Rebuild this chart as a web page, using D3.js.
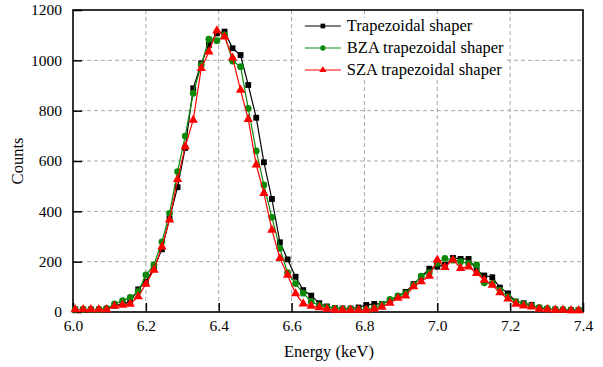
<!DOCTYPE html>
<html>
<head>
<meta charset="utf-8">
<script src="https://cdn.jsdelivr.net/npm/d3@7"></script>
<style>
  body { margin: 0; background: #fff; }
</style>
</head>
<body>
<div id="chart"></div>
<script>
// energy of each channel (keV)
const energy = [6.006, 6.028, 6.049, 6.071, 6.092, 6.114, 6.136, 6.157, 6.179, 6.200,
  6.222, 6.244, 6.265, 6.287, 6.308, 6.330, 6.352, 6.373, 6.395, 6.416,
  6.438, 6.460, 6.481, 6.503, 6.524, 6.546, 6.568, 6.589, 6.611, 6.632,
  6.654, 6.676, 6.697, 6.719, 6.740, 6.762, 6.784, 6.805, 6.827, 6.848,
  6.870, 6.892, 6.913, 6.935, 6.956, 6.978, 7.000, 7.021, 7.043, 7.064,
  7.086, 7.108, 7.129, 7.151, 7.172, 7.194, 7.216, 7.237, 7.259, 7.280,
  7.302, 7.324, 7.345, 7.367, 7.388];

const trapezoidal = [10, 10, 10, 10, 12, 25, 32, 41, 90, 120,
  174, 249, 372, 496, 652, 889, 988, 1061, 1107, 1114,
  1048, 1021, 902, 772, 595, 449, 277, 209, 140, 87,
  65, 35, 22, 16, 14, 14, 18, 28, 32, 32,
  45, 62, 80, 111, 140, 172, 180, 187, 215, 211,
  211, 167, 145, 138, 97, 74, 41, 35, 28, 16,
  12, 10, 8, 8, 8];

const bza = [10, 10, 10, 10, 14, 32, 45, 58, 81, 147,
  187, 279, 392, 558, 699, 869, 981, 1084, 1078, 1101,
  997, 975, 809, 640, 505, 376, 253, 156, 113, 75,
  41, 26, 18, 14, 12, 12, 10, 10, 16, 30,
  50, 64, 74, 107, 143, 156, 193, 213, 206, 200,
  193, 187, 116, 114, 87, 61, 41, 32, 24, 18,
  14, 10, 10, 8, 8];

const sza = [10, 10, 10, 10, 10, 24, 28, 32, 61, 111,
  167, 259, 366, 527, 657, 763, 968, 1034, 1118, 1094,
  1010, 882, 766, 585, 472, 326, 213, 147, 73, 33,
  24, 18, 12, 8, 8, 8, 8, 8, 12, 20,
  36, 55, 64, 101, 121, 143, 207, 178, 207, 174,
  180, 154, 127, 107, 77, 52, 32, 25, 21, 12,
  10, 8, 8, 6, 6];

const seriesNames = ['Trapezoidal shaper', 'BZA trapezoidal shaper', 'SZA trapezoidal shaper'];
const seriesColors = ['#000000', '#0a8a0a', '#ff0000'];
const seriesMarkers = ['square', 'circle', 'triangle'];
const xTicks = [6.0, 6.2, 6.4, 6.6, 6.8, 7.0, 7.2, 7.4];
const yTicks = [0, 200, 400, 600, 800, 1000, 1200];

const serif = '"Liberation Serif", "Times New Roman", Times, serif';

const margin = { top: 10, right: 20, bottom: 55, left: 73 };
const width = 603 - margin.left - margin.right;
const height = 367 - margin.top - margin.bottom;

const svg = d3.select('#chart').append('svg')
    .attr('width', 603)
    .attr('height', 367)
  .append('g')
    .attr('transform', 'translate(' + margin.left + ',' + margin.top + ')');

const x = d3.scaleLinear().domain([6.0, 7.4]).range([0, width]);
const y = d3.scaleLinear().domain([0, 1200]).range([height, 0]);

// grid
svg.append('g')
    .selectAll('line')
    .data(xTicks.slice(1, -1))
  .enter().append('line')
    .attr('x1', d => x(d)).attr('x2', d => x(d))
    .attr('y1', 0).attr('y2', height)
    .attr('stroke', '#a8a8a8')
    .attr('stroke-dasharray', '4,3');

svg.append('g')
    .selectAll('line')
    .data(yTicks.slice(1, -1))
  .enter().append('line')
    .attr('y1', d => y(d)).attr('y2', d => y(d))
    .attr('x1', 0).attr('x2', width)
    .attr('stroke', '#a8a8a8')
    .attr('stroke-dasharray', '4,3');

// axes with inward ticks
const xAxis = svg.append('g')
    .attr('transform', 'translate(0,' + height + ')')
    .call(d3.axisBottom(x).tickValues(xTicks).tickFormat(d3.format('.1f')).tickSizeInner(-9).tickSizeOuter(0).tickPadding(8));
const yAxis = svg.append('g')
    .call(d3.axisLeft(y).tickValues(yTicks).tickFormat(d3.format('d')).tickSizeInner(-9).tickSizeOuter(0).tickPadding(11));

[xAxis, yAxis].forEach(a => {
  a.attr('font-family', serif);
  a.select('.domain').remove();
  a.selectAll('line').attr('stroke', '#000').attr('stroke-width', 1.5);
  a.selectAll('text').attr('font-size', 15.5).attr('fill', '#000');
});

// frame
svg.append('rect')
    .attr('width', width).attr('height', height)
    .attr('fill', 'none').attr('stroke', '#000').attr('stroke-width', 1.6);

const symbolType = { square: d3.symbolSquare, circle: d3.symbolCircle, triangle: d3.symbolTriangle };
const symbolSize = { square: 34, circle: 36, triangle: 38 };

const allSeries = [trapezoidal, bza, sza];
const line = d3.line().x((d, i) => x(energy[i])).y(d => y(d));

allSeries.forEach((vals, s) => {
  const g = svg.append('g');
  g.append('path')
      .datum(vals)
      .attr('d', line)
      .attr('fill', 'none')
      .attr('stroke', seriesColors[s])
      .attr('stroke-width', 1.2);
  g.selectAll('.pt')
      .data(vals)
    .enter().append('path')
      .attr('class', 'pt')
      .attr('transform', (d, i) => 'translate(' + x(energy[i]) + ',' + y(d) + ')')
      .attr('d', d3.symbol().type(symbolType[seriesMarkers[s]]).size(symbolSize[seriesMarkers[s]]))
      .attr('fill', seriesColors[s]);
});

// legend
const legend = svg.append('g').attr('transform', 'translate(' + (x(6.62)) + ',8)');
legend.append('rect')
    .attr('x', 0).attr('y', 0).attr('width', 206).attr('height', 60)
    .attr('fill', '#fff');
seriesNames.forEach((name, s) => {
  const row = legend.append('g').attr('transform', 'translate(0,' + (8 + s * 22) + ')');
  row.append('line')
      .attr('x1', 6).attr('x2', 42).attr('y1', 0).attr('y2', 0)
      .attr('stroke', seriesColors[s]).attr('stroke-width', 1.2);
  row.append('path')
      .attr('transform', 'translate(24,0)')
      .attr('d', d3.symbol().type(symbolType[seriesMarkers[s]]).size(22))
      .attr('fill', seriesColors[s]);
  row.append('text')
      .attr('x', 48).attr('y', 5)
      .attr('font-family', serif)
      .attr('font-size', 16.5)
      .text(name);
});

// axis titles
svg.append('text')
    .attr('x', width / 2 + 1).attr('y', height + 45)
    .attr('text-anchor', 'middle')
    .attr('font-family', serif)
    .attr('font-size', 16.5)
    .text('Energy (keV)');

svg.append('text')
    .attr('transform', 'translate(' + (-50) + ',' + (height / 2) + ') rotate(-90)')
    .attr('text-anchor', 'middle')
    .attr('font-family', serif)
    .attr('font-size', 16.5)
    .text('Counts');
</script>
</body>
</html>
